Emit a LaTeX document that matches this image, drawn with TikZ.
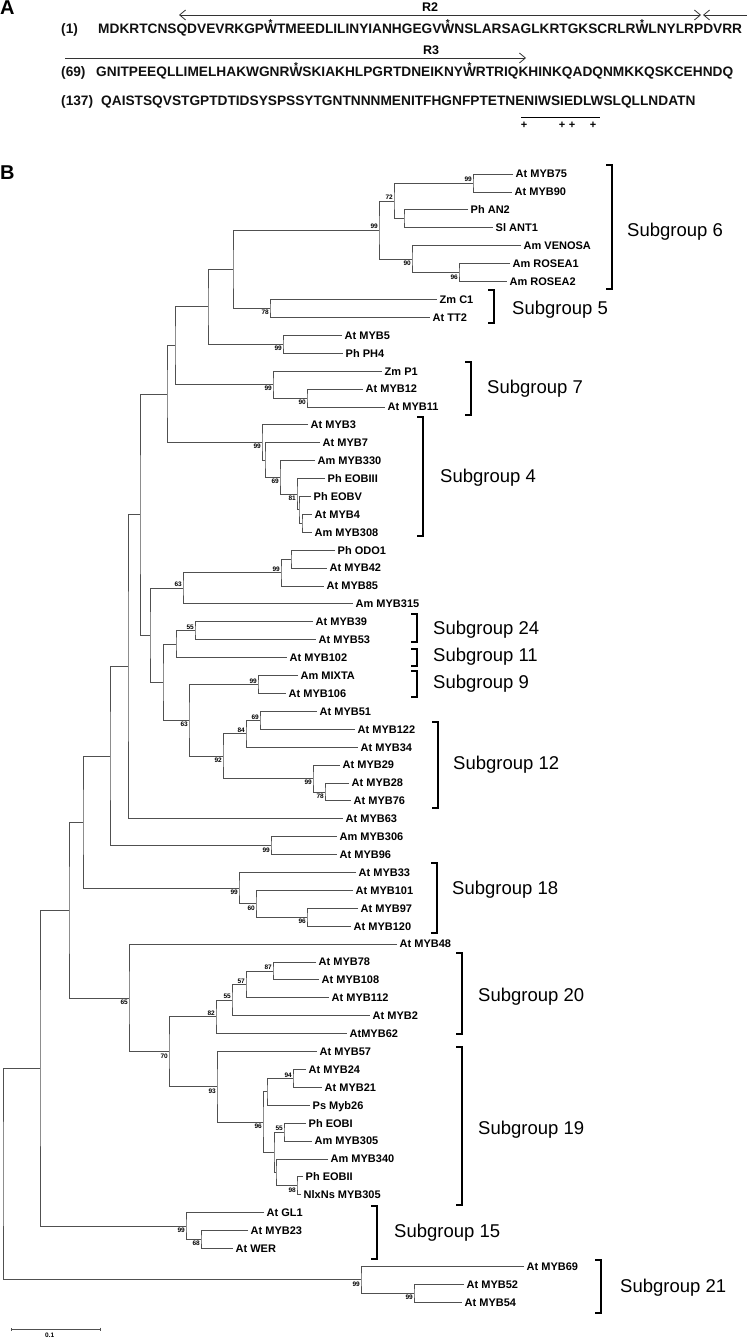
\documentclass[tikz,border=0pt]{standalone}
\usepackage{fontspec}
\setmainfont{Liberation Sans}
\usepackage{tikz}
\usetikzlibrary{arrows.meta}
\definecolor{branchgray}{HTML}{505050}
\definecolor{seqblack}{HTML}{101010}
% W with a star over it
\newcommand{\wstar}{\ooalign{W\cr\hidewidth\raisebox{7.4pt}{\fontsize{10}{10}\selectfont *}\hidewidth\cr}}

\begin{document}
\begin{tikzpicture}[x=1pt,y=-1pt,
    br/.style={draw=branchgray,line width=0.6pt},
    leaf/.style={anchor=west,inner xsep=2.5pt,inner ysep=0pt,text height=8pt,text depth=0pt,font=\fontsize{11}{12}\selectfont\bfseries},
    bsa/.style={anchor=south east,inner sep=0.6pt,xshift=-0.4pt,yshift=0.3pt,font=\fontsize{6.5}{7}\selectfont\bfseries},
    bsb/.style={anchor=north east,inner sep=0.6pt,xshift=-0.4pt,yshift=-1.2pt,font=\fontsize{6.5}{7}\selectfont\bfseries},
    brk/.style={draw=black,line width=1.3pt},
    sglab/.style={anchor=west,inner sep=0pt,font=\fontsize{18.5}{20}\selectfont},
    seq/.style={anchor=base west,inner sep=0pt,text=seqblack,font=\fontsize{13.7}{16}\selectfont\bfseries},
    rlab/.style={inner sep=0pt,font=\fontsize{12.5}{14}\selectfont\bfseries},
    plus/.style={inner sep=0pt,font=\fontsize{11}{12}\selectfont\bfseries},
    seqarrow/.style={draw=black!80,line width=0.8pt},
    panel/.style={anchor=north west,inner sep=0pt,font=\fontsize{20}{22}\selectfont\bfseries}]
\useasboundingbox (0,0) rectangle (747,1340);

% ---------- panel A ----------
\node[panel] (pA) at (0,1) {A};
\coordinate (r2a) at (179,15); \coordinate (r2b) at (701,15);
\coordinate (r2c) at (703,15); \coordinate (r2d) at (747,15);
\coordinate (r3a) at (65,58);  \coordinate (r3b) at (526,58);
\draw[seqarrow,{Straight Barb[length=6pt,width=10pt]}-{Straight Barb[length=6pt,width=10pt]}] (r2a) -- (r2b);
\draw[seqarrow,{Straight Barb[length=6pt,width=10pt]}-] (r2c) -- (r2d);
\draw[seqarrow,-{Straight Barb[length=6pt,width=10pt]}] (r3a) -- (r3b);
\node[rlab] (r2) at (430,7) {R2};
\node[rlab] (r3) at (431,50) {R3};
\node[seq] (n1) at (61,34) {(1)};
\node[seq] (s1) at (98,34) {MDKRTCNSQDVEVRKGP\wstar{}TMEEDLILINYIANHGEGV\wstar{}NSLARSAGLKRTGKSCRLR\wstar{}LNYLRPDVRR};
\node[seq] (n69) at (61,77) {(69)};
\node[seq] (s2) at (96,77) {GNITPEEQLLIMELHAKWGNR\wstar{}SKIAKHLPGRTDNEIKNY\wstar{}RTRIQKHINKQADQNMKKQSKCEHNDQ};
\node[seq] (n137) at (61,106) {(137)};
\node[seq] (s3) at (101,106) {QAISTSQVSTGPTDTIDSYSPSSYTGNTNNNMENITFHGNFPTETNENIWSIEDLWSLQLLNDATN};
\coordinate (ula) at (521,117); \coordinate (ulb) at (600,117);
\draw[black,line width=0.8pt] (ula) -- (ulb);
\node[plus] (p1) at (524,125) {+};
\node[plus] (p2) at (562,125) {+};
\node[plus] (p3) at (572,125) {+};
\node[plus] (p4) at (593,125) {+};

% ---------- panel B ----------
\node[panel] (pB) at (0,166) {B};

% leaves
\node[leaf] (at75) at (513,174.0) {At MYB75};
\node[leaf] (at90) at (512,191.9) {At MYB90};
\node[leaf] (phan2) at (468,209.8) {Ph AN2};
\node[leaf] (slant1) at (493,227.7) {Sl ANT1};
\node[leaf] (amven) at (521,245.6) {Am VENOSA};
\node[leaf] (amros1) at (510,263.5) {Am ROSEA1};
\node[leaf] (amros2) at (507,281.4) {Am ROSEA2};
\node[leaf] (zmc1) at (437,299.3) {Zm C1};
\node[leaf] (attt2) at (430,317.2) {At TT2};
\node[leaf] (at5) at (342,335.1) {At MYB5};
\node[leaf] (phph4) at (343,353.1) {Ph PH4};
\node[leaf] (zmp1) at (382,371.0) {Zm P1};
\node[leaf] (at12) at (363,388.9) {At MYB12};
\node[leaf] (at11) at (385,406.8) {At MYB11};
\node[leaf] (at3) at (308,424.7) {At MYB3};
\node[leaf] (at7) at (320,442.6) {At MYB7};
\node[leaf] (am330) at (315,460.5) {Am MYB330};
\node[leaf] (pheob3) at (325,478.4) {Ph EOBIII};
\node[leaf] (pheob5) at (311,496.3) {Ph EOBV};
\node[leaf] (at4) at (312,514.2) {At MYB4};
\node[leaf] (am308) at (312,532.1) {Am MYB308};
\node[leaf] (phodo1) at (335,550.0) {Ph ODO1};
\node[leaf] (at42) at (327,567.9) {At MYB42};
\node[leaf] (at85) at (324,585.8) {At MYB85};
\node[leaf] (am315) at (353,603.7) {Am MYB315};
\node[leaf] (at39) at (313,621.6) {At MYB39};
\node[leaf] (at53) at (316,639.5) {At MYB53};
\node[leaf] (at102) at (287,657.4) {At MYB102};
\node[leaf] (ammix) at (298,675.3) {Am MIXTA};
\node[leaf] (at106) at (286,693.2) {At MYB106};
\node[leaf] (at51) at (317,711.2) {At MYB51};
\node[leaf] (at122) at (355,729.1) {At MYB122};
\node[leaf] (at34) at (358,747.0) {At MYB34};
\node[leaf] (at29) at (340,764.9) {At MYB29};
\node[leaf] (at28) at (349,782.8) {At MYB28};
\node[leaf] (at76) at (351,800.7) {At MYB76};
\node[leaf] (at63) at (343,818.6) {At MYB63};
\node[leaf] (am306) at (337,836.5) {Am MYB306};
\node[leaf] (at96) at (337,854.4) {At MYB96};
\node[leaf] (at33) at (356,872.3) {At MYB33};
\node[leaf] (at101) at (353,890.2) {At MYB101};
\node[leaf] (at97) at (358,908.1) {At MYB97};
\node[leaf] (at120) at (351,926.0) {At MYB120};
\node[leaf] (at48) at (397,943.9) {At MYB48};
\node[leaf] (at78) at (316,961.8) {At MYB78};
\node[leaf] (at108) at (319,979.7) {At MYB108};
\node[leaf] (at112) at (329,997.6) {At MYB112};
\node[leaf] (at2) at (370,1015.5) {At MYB2};
\node[leaf] (at62) at (347,1033.4) {AtMYB62};
\node[leaf] (at57) at (317,1051.3) {At MYB57};
\node[leaf] (at24) at (306,1069.2) {At MYB24};
\node[leaf] (at21) at (322,1087.2) {At MYB21};
\node[leaf] (psmyb26) at (310,1105.1) {Ps Myb26};
\node[leaf] (pheob1) at (306,1123.0) {Ph EOBI};
\node[leaf] (am305) at (312,1140.9) {Am MYB305};
\node[leaf] (am340) at (328,1158.8) {Am MYB340};
\node[leaf] (pheob2) at (303,1176.7) {Ph EOBII};
\node[leaf] (nlx305) at (301,1194.6) {NlxNs MYB305};
\node[leaf] (atgl1) at (264,1212.5) {At GL1};
\node[leaf] (at23) at (248,1230.4) {At MYB23};
\node[leaf] (atwer) at (233,1248.3) {At WER};
\node[leaf] (at69) at (524,1266.2) {At MYB69};
\node[leaf] (at52) at (464,1284.1) {At MYB52};
\node[leaf] (at54) at (462,1302.0) {At MYB54};

% inner nodes
\coordinate (n7590) at (473,183.0);
\coordinate (nan2) at (404,218.8);
\coordinate (n72) at (394,200.9);
\coordinate (nros) at (459,272.5);
\coordinate (nven) at (412,259.0);
\coordinate (n99a) at (379,230.0);
\coordinate (nc1) at (270,308.3);
\coordinate (nsg65) at (233,269.1);
\coordinate (nph4) at (283,344.1);
\coordinate (nx208) at (208,306.6);
\coordinate (n1211) at (307,397.9);
\coordinate (np1) at (273,384.4);
\coordinate (nx175) at (175,345.5);
\coordinate (n4308) at (302,523.2);
\coordinate (neobv) at (299,509.7);
\coordinate (n81) at (297,494.1);
\coordinate (n69a) at (280,477.3);
\coordinate (nmyb7) at (265,460.0);
\coordinate (n99b) at (262,442.3);
\coordinate (nx167) at (167,393.9);
\coordinate (nodo) at (291,559.0);
\coordinate (n99c) at (281,572.4);
\coordinate (n63a) at (183,588.0);
\coordinate (n55a) at (195,630.6);
\coordinate (nx176) at (176,644.0);
\coordinate (nmix) at (258,684.3);
\coordinate (n69b) at (260,720.2);
\coordinate (n84) at (246,733.6);
\coordinate (n78b) at (325,791.8);
\coordinate (n99d) at (313,778.3);
\coordinate (n92) at (223,756.0);
\coordinate (n63b) at (189,720.1);
\coordinate (nx163) at (163,682.0);
\coordinate (nx150) at (150,635.0);
\coordinate (nx140) at (140,514.5);
\coordinate (nx128) at (128,666.5);
\coordinate (n99e) at (271,845.5);
\coordinate (nx110) at (110,756.0);
\coordinate (n96b) at (307,917.1);
\coordinate (n60) at (256,903.6);
\coordinate (n99f) at (239,888.0);
\coordinate (nx83) at (83,822.0);
\coordinate (n87) at (273,970.8);
\coordinate (n57) at (246,984.2);
\coordinate (n55b) at (232,999.9);
\coordinate (n82) at (216,1016.6);
\coordinate (n94) at (293,1078.2);
\coordinate (nps) at (267,1091.7);
\coordinate (n55c) at (284,1132.0);
\coordinate (n98) at (297,1185.7);
\coordinate (n340) at (276,1172.2);
\coordinate (nx274) at (274,1152.1);
\coordinate (n96c) at (263,1121.9);
\coordinate (n93) at (217,1086.6);
\coordinate (n70) at (169,1051.6);
\coordinate (n65) at (129,997.8);
\coordinate (nx69) at (69,909.9);
\coordinate (n68) at (201,1239.4);
\coordinate (n99g) at (186,1225.9);
\coordinate (nx40) at (40,1067.9);
\coordinate (n99i) at (414,1293.1);
\coordinate (n99h) at (361,1279.6);
\coordinate (root) at (3,1173.8);

% branches
\draw[br] (at75) -| (n7590) |- (at90);
\draw[br] (phan2) -| (nan2) |- (slant1);
\draw[br] (n7590) -| (n72) |- (nan2);
\draw[br] (amros1) -| (nros) |- (amros2);
\draw[br] (amven) -| (nven) |- (nros);
\draw[br] (n72) -| (n99a) |- (nven);
\draw[br] (zmc1) -| (nc1) |- (attt2);
\draw[br] (n99a) -| (nsg65) |- (nc1);
\draw[br] (at5) -| (nph4) |- (phph4);
\draw[br] (nsg65) -| (nx208) |- (nph4);
\draw[br] (at12) -| (n1211) |- (at11);
\draw[br] (zmp1) -| (np1) |- (n1211);
\draw[br] (nx208) -| (nx175) |- (np1);
\draw[br] (at4) -| (n4308) |- (am308);
\draw[br] (pheob5) -| (neobv) |- (n4308);
\draw[br] (pheob3) -| (n81) |- (neobv);
\draw[br] (am330) -| (n69a) |- (n81);
\draw[br] (at7) -| (nmyb7) |- (n69a);
\draw[br] (at3) -| (n99b) |- (nmyb7);
\draw[br] (nx175) -| (nx167) |- (n99b);
\draw[br] (phodo1) -| (nodo) |- (at42);
\draw[br] (nodo) -| (n99c) |- (at85);
\draw[br] (n99c) -| (n63a) |- (am315);
\draw[br] (at39) -| (n55a) |- (at53);
\draw[br] (n55a) -| (nx176) |- (at102);
\draw[br] (ammix) -| (nmix) |- (at106);
\draw[br] (at51) -| (n69b) |- (at122);
\draw[br] (n69b) -| (n84) |- (at34);
\draw[br] (at28) -| (n78b) |- (at76);
\draw[br] (at29) -| (n99d) |- (n78b);
\draw[br] (n84) -| (n92) |- (n99d);
\draw[br] (nmix) -| (n63b) |- (n92);
\draw[br] (nx176) -| (nx163) |- (n63b);
\draw[br] (n63a) -| (nx150) |- (nx163);
\draw[br] (nx167) -| (nx140) |- (nx150);
\draw[br] (nx140) -| (nx128) |- (at63);
\draw[br] (am306) -| (n99e) |- (at96);
\draw[br] (nx128) -| (nx110) |- (n99e);
\draw[br] (at97) -| (n96b) |- (at120);
\draw[br] (at101) -| (n60) |- (n96b);
\draw[br] (at33) -| (n99f) |- (n60);
\draw[br] (nx110) -| (nx83) |- (n99f);
\draw[br] (at78) -| (n87) |- (at108);
\draw[br] (n87) -| (n57) |- (at112);
\draw[br] (n57) -| (n55b) |- (at2);
\draw[br] (n55b) -| (n82) |- (at62);
\draw[br] (at24) -| (n94) |- (at21);
\draw[br] (n94) -| (nps) |- (psmyb26);
\draw[br] (pheob1) -| (n55c) |- (am305);
\draw[br] (pheob2) -| (n98) |- (nlx305);
\draw[br] (am340) -| (n340) |- (n98);
\draw[br] (n55c) -| (nx274) |- (n340);
\draw[br] (nps) -| (n96c) |- (nx274);
\draw[br] (at57) -| (n93) |- (n96c);
\draw[br] (n82) -| (n70) |- (n93);
\draw[br] (at48) -| (n65) |- (n70);
\draw[br] (nx83) -| (nx69) |- (n65);
\draw[br] (at23) -| (n68) |- (atwer);
\draw[br] (atgl1) -| (n99g) |- (n68);
\draw[br] (nx69) -| (nx40) |- (n99g);
\draw[br] (at52) -| (n99i) |- (at54);
\draw[br] (at69) -| (n99h) |- (n99i);
\draw[br] (nx40) -| (root) |- (n99h);

% bootstrap values
\node[bsa] at (n7590) {99}; \node[bsa] at (n72) {72};
\node[bsb] at (nros) {96};  \node[bsb] at (nven) {90};
\node[bsa] at (n99a) {99};  \node[bsb] at (nc1) {78};
\node[bsb] at (nph4) {99};  \node[bsb] at (n1211) {90};
\node[bsb] at (np1) {99};   \node[bsb] at (n81) {81};
\node[bsb] at (n69a) {69};  \node[bsb] at (n99b) {99};
\node[bsa] at (n99c) {99};  \node[bsa] at (n63a) {63};
\node[bsa] at (n55a) {55};  \node[bsa] at (nmix) {99};
\node[bsa] at (n69b) {69};  \node[bsa] at (n84) {84};
\node[bsb] at (n78b) {78};  \node[bsb] at (n99d) {99};
\node[bsb] at (n92) {92};   \node[bsb] at (n63b) {63};
\node[bsb] at (n99e) {99};  \node[bsb] at (n96b) {96};
\node[bsb] at (n60) {60};   \node[bsb] at (n99f) {99};
\node[bsa] at (n87) {87};   \node[bsa] at (n57) {57};
\node[bsa] at (n55b) {55};  \node[bsa] at (n82) {82};
\node[bsa] at (n94) {94};   \node[bsa] at (n55c) {55};
\node[bsb] at (n98) {98};   \node[bsb] at (n96c) {96};
\node[bsb] at (n93) {93};   \node[bsb] at (n70) {70};
\node[bsb] at (n65) {65};   \node[bsb] at (n68) {68};
\node[bsb] at (n99g) {99};  \node[bsb] at (n99h) {99};
\node[bsb] at (n99i) {99};

% subgroup brackets
\draw[brk] (606,165) -- (612,165) -- (612,289) -- (606,289);   \node[sglab] (sg6) at (627,232) {Subgroup 6};
\draw[brk] (488,290) -- (494,290) -- (494,323) -- (488,323);   \node[sglab] (sg5) at (512,310) {Subgroup 5};
\draw[brk] (465,362) -- (471,362) -- (471,415) -- (465,415);   \node[sglab] (sg7) at (487,389) {Subgroup 7};
\draw[brk] (417,417) -- (423,417) -- (423,536) -- (417,536);   \node[sglab] (sg4) at (440,478) {Subgroup 4};
\draw[brk] (411,614) -- (417,614) -- (417,642) -- (411,642);   \node[sglab] (sg24) at (433,630) {Subgroup 24};
\draw[brk] (411,649) -- (417,649) -- (417,666) -- (411,666);   \node[sglab] (sg11) at (433,657) {Subgroup 11};
\draw[brk] (411,671) -- (417,671) -- (417,697) -- (411,697);   \node[sglab] (sg9) at (433,684) {Subgroup 9};
\draw[brk] (432,722) -- (438,722) -- (438,808) -- (432,808);   \node[sglab] (sg12) at (453,765) {Subgroup 12};
\draw[brk] (431,863) -- (437,863) -- (437,933) -- (431,933);   \node[sglab] (sg18) at (452,890) {Subgroup 18};
\draw[brk] (456,953) -- (462,953) -- (462,1034) -- (456,1034); \node[sglab] (sg20) at (478,997) {Subgroup 20};
\draw[brk] (456,1047) -- (462,1047) -- (462,1205) -- (456,1205); \node[sglab] (sg19) at (478,1130) {Subgroup 19};
\draw[brk] (371,1206) -- (377,1206) -- (377,1259) -- (371,1259); \node[sglab] (sg15) at (394,1233) {Subgroup 15};
\draw[brk] (595,1260) -- (601,1260) -- (601,1313) -- (595,1313); \node[sglab] (sg21) at (620,1288) {Subgroup 21};

% scale bar
\coordinate (sba) at (10.6,1329); \coordinate (sbb) at (101,1329);
\draw[br,{Bar[width=3pt]}-{Bar[width=3pt]}] (sba) -- (sbb);
\node[bsa,anchor=center] (sbl) at (50,1336) {0.1};
\end{tikzpicture}
\end{document}
